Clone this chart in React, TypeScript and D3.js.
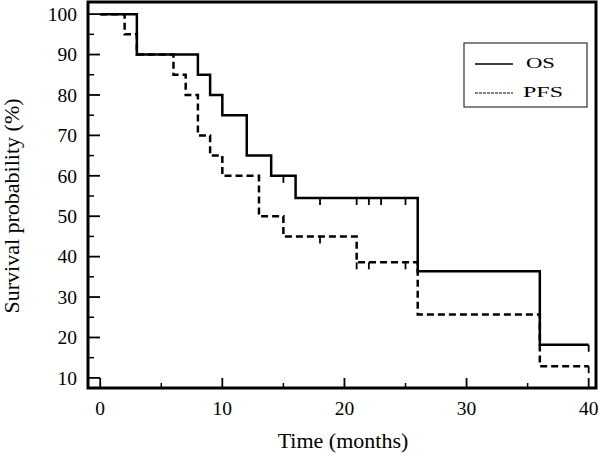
import React, { useEffect, useRef } from "react";
import * as d3 from "d3";

// Kaplan-Meier estimates
const osTimes = [0, 3, 8, 9, 10, 12, 14, 16, 26, 36, 40];
const osSurvival = [100, 90, 85, 80, 75, 65, 60, 54.5, 36.4, 18.2, 18.2];
const osCensored = [15, 18, 21, 22, 23, 25, 40];

const pfsTimes = [0, 2, 3, 6, 7, 8, 9, 10, 13, 15, 21, 26, 36, 40];
const pfsSurvival = [100, 95, 90, 85, 80, 70, 65, 60, 50, 45, 38.6, 25.7, 12.9, 12.9];
const pfsCensored = [18, 21, 22, 25, 40];

const xMajorTicks = [0, 10, 20, 30, 40];
const xMinorTicks = [5, 15, 25, 35];
const yMajorTicks = [10, 20, 30, 40, 50, 60, 70, 80, 90, 100];
const yMinorTicks = [15, 25, 35, 45, 55, 65, 75, 85, 95];

const legendLabels = ["OS", "PFS"];

const FONT = "'Liberation Serif', 'Times New Roman', serif";

function App() {
  const svgRef = useRef<SVGSVGElement>(null);

  useEffect(() => {
    const W = 600;
    const H = 454;
    const svg = d3.select(svgRef.current).attr("width", W).attr("height", H);
    svg.selectAll("*").remove();

    const left = 88, right = 596, top = 2, bottom = 388;

    const x = d3.scaleLinear().domain([-1, 40.6]).range([left, right]);
    const y = d3.scaleLinear().domain([7.5, 103]).range([bottom, top]);

    const g = svg.append("g");

    // ticks, drawn inward
    g.append("g")
      .selectAll("line")
      .data(yMajorTicks)
      .join("line")
      .attr("x1", left).attr("x2", left + 12)
      .attr("y1", (d) => y(d)).attr("y2", (d) => y(d))
      .attr("stroke", "#000").attr("stroke-width", 1.8);
    g.append("g")
      .selectAll("line")
      .data(yMinorTicks)
      .join("line")
      .attr("x1", left).attr("x2", left + 6)
      .attr("y1", (d) => y(d)).attr("y2", (d) => y(d))
      .attr("stroke", "#000").attr("stroke-width", 1.5);
    g.append("g")
      .selectAll("line")
      .data(xMajorTicks)
      .join("line")
      .attr("x1", (d) => x(d)).attr("x2", (d) => x(d))
      .attr("y1", bottom).attr("y2", bottom - 10)
      .attr("stroke", "#000").attr("stroke-width", 1.8);
    g.append("g")
      .selectAll("line")
      .data(xMinorTicks)
      .join("line")
      .attr("x1", (d) => x(d)).attr("x2", (d) => x(d))
      .attr("y1", bottom).attr("y2", bottom - 5)
      .attr("stroke", "#000").attr("stroke-width", 1.5);

    // tick labels
    g.append("g")
      .selectAll("text")
      .data(yMajorTicks)
      .join("text")
      .attr("x", 77)
      .attr("y", (d) => y(d))
      .attr("dy", "0.35em")
      .attr("text-anchor", "end")
      .attr("font-family", FONT)
      .attr("font-size", 19.5)
      .text((d) => d);
    g.append("g")
      .selectAll("text")
      .data(xMajorTicks)
      .join("text")
      .attr("x", (d) => x(d))
      .attr("y", 415)
      .attr("text-anchor", "middle")
      .attr("font-family", FONT)
      .attr("font-size", 19.5)
      .text((d) => d);

    // axis titles
    g.append("text")
      .attr("x", 343).attr("y", 448)
      .attr("text-anchor", "middle")
      .attr("font-family", FONT).attr("font-size", 22)
      .text("Time (months)");
    g.append("text")
      .attr("transform", `translate(18.5, 206) rotate(-90)`)
      .attr("text-anchor", "middle")
      .attr("font-family", FONT).attr("font-size", 22)
      .text("Survival probability (%)");

    // curves
    const line = d3.line<[number, number]>()
      .x((d) => x(d[0]))
      .y((d) => y(d[1]))
      .curve(d3.curveStepAfter);

    const osPts = osTimes.map((t, i) => [t, osSurvival[i]] as [number, number]);
    const pfsPts = pfsTimes.map((t, i) => [t, pfsSurvival[i]] as [number, number]);

    const stepValue = (times: number[], vals: number[], t: number) => {
      const i = d3.bisectRight(times, t) - 1;
      return vals[Math.max(0, Math.min(i, vals.length - 1))];
    };

    g.append("path")
      .attr("d", line(pfsPts))
      .attr("fill", "none")
      .attr("stroke", "#000")
      .attr("stroke-width", 2.5)
      .attr("stroke-dasharray", "7,4");
    g.append("path")
      .attr("d", line(osPts))
      .attr("fill", "none")
      .attr("stroke", "#000")
      .attr("stroke-width", 2.5);

    // censor marks
    g.append("g")
      .selectAll("line")
      .data(osCensored)
      .join("line")
      .attr("x1", (d) => x(d)).attr("x2", (d) => x(d))
      .attr("y1", (d) => y(stepValue(osTimes, osSurvival, d)))
      .attr("y2", (d) => y(stepValue(osTimes, osSurvival, d)) + 7)
      .attr("stroke", "#000").attr("stroke-width", 1.8);
    g.append("g")
      .selectAll("line")
      .data(pfsCensored)
      .join("line")
      .attr("x1", (d) => x(d)).attr("x2", (d) => x(d))
      .attr("y1", (d) => y(stepValue(pfsTimes, pfsSurvival, d)))
      .attr("y2", (d) => y(stepValue(pfsTimes, pfsSurvival, d)) + 7)
      .attr("stroke", "#000").attr("stroke-width", 1.8);

    // frame
    g.append("rect")
      .attr("x", left).attr("y", top)
      .attr("width", right - left).attr("height", bottom - top)
      .attr("fill", "none")
      .attr("stroke", "#000").attr("stroke-width", 3);

    // legend
    const lg = g.append("g");
    lg.append("rect")
      .attr("x", 464).attr("y", 43)
      .attr("width", 123).attr("height", 64)
      .attr("fill", "#fff")
      .attr("stroke", "#333").attr("stroke-width", 1.2);
    lg.append("line")
      .attr("x1", 475).attr("x2", 513).attr("y1", 64).attr("y2", 64)
      .attr("stroke", "#000").attr("stroke-width", 1.5);
    lg.append("line")
      .attr("x1", 475).attr("x2", 513).attr("y1", 93).attr("y2", 93)
      .attr("stroke", "#000").attr("stroke-width", 1)
      .attr("stroke-dasharray", "3,1");
    // the legend lettering is drawn wide in the source, so stretch it
    const legendWidths = [29, 40];
    lg.selectAll("text")
      .data(legendLabels)
      .join("text")
      .attr("x", (d, i) => (i === 0 ? 526 : 523))
      .attr("y", (d, i) => 68 + i * 29)
      .attr("font-family", FONT)
      .attr("font-size", 15.5)
      .attr("textLength", (d, i) => legendWidths[i])
      .attr("lengthAdjust", "spacingAndGlyphs")
      .text((d) => d);
  }, []);

  return (
    <svg
      ref={svgRef}
      style={{ position: "absolute", left: 0, top: 0, background: "#fff" }}
    ></svg>
  );
}

export default App;
